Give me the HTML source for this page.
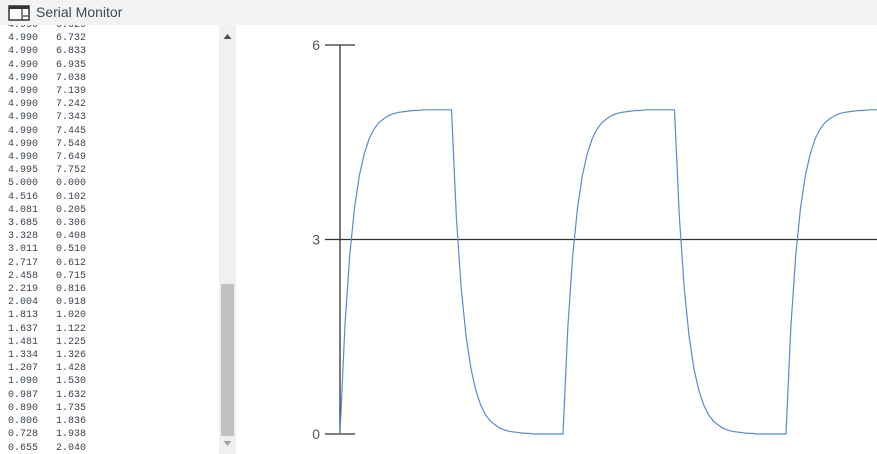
<!DOCTYPE html>
<html><head><meta charset="utf-8">
<style>
body{margin:0;width:877px;height:454px;overflow:hidden;background:#fff;font-family:"Liberation Sans",sans-serif;position:relative}
#hdr{position:absolute;left:0;top:0;width:877px;height:25px;background:#f3f3f4}
#title{position:absolute;left:36px;top:4px;font-size:14px;color:#3c4a5a}
#log{position:absolute;left:8px;font-family:"Liberation Mono",monospace;font-size:10px;line-height:13.2px;color:#3a4350;white-space:pre}
#logwrap{position:absolute;left:0;top:25px;width:219px;height:429px;overflow:hidden}
#track{position:absolute;left:219px;top:25px;width:17px;height:429px;background:#f0f0f0}
#thumb{position:absolute;left:221px;top:284px;width:13px;height:152px;background:#c1c1c1}
</style></head><body>
<div id="hdr">
<svg style="position:absolute;left:8px;top:5px" width="22" height="16">
<rect x="1" y="1" width="20" height="14" fill="#fff" stroke="#333" stroke-width="1.5"/>
<rect x="1" y="1" width="20" height="3" fill="#333"/>
<line x1="14" y1="4" x2="14" y2="15" stroke="#333" stroke-width="1.2"/>
<line x1="15" y1="11" x2="20" y2="11" stroke="#333" stroke-width="1.2"/>
</svg>
<div id="title">Serial Monitor</div>
</div>
<div id="logwrap"><div id="log" style="top:-6px">4.990   6.629
4.990   6.732
4.990   6.833
4.990   6.935
4.990   7.038
4.990   7.139
4.990   7.242
4.990   7.343
4.990   7.445
4.990   7.548
4.990   7.649
4.995   7.752
5.000   0.000
4.516   0.102
4.081   0.205
3.685   0.306
3.328   0.408
3.011   0.510
2.717   0.612
2.458   0.715
2.219   0.816
2.004   0.918
1.813   1.020
1.637   1.122
1.481   1.225
1.334   1.326
1.207   1.428
1.090   1.530
0.987   1.632
0.890   1.735
0.806   1.836
0.728   1.938
0.655   2.040</div></div>
<div id="track"></div>
<div id="thumb"></div>
<svg style="position:absolute;left:219px;top:25px" width="17" height="429">
<polygon points="4.5,14 12.5,14 8.5,9" fill="#505050"/>
<polygon points="4.5,416 12.5,416 8.5,421" fill="#a0a0a0"/>
</svg>
<svg id="chart" style="position:absolute;left:0;top:0" width="877" height="454"></svg>
<script>
const yTicks=[0,3,6];
const yTickLabels=["0","3","6"];
const series=[0,1.65,2.75,3.49,3.99,4.32,4.55,4.70,4.80,4.86,4.91,4.94,4.96,4.97,4.98,4.99,4.99,5,5,5,5,5,5,
5,3.35,2.25,1.51,1.01,0.68,0.45,0.30,0.20,0.14,0.09,0.06,0.04,0.03,0.02,0.01,0.01,0,0,0,0,0,0,
0,1.65,2.75,3.49,3.99,4.32,4.55,4.70,4.80,4.86,4.91,4.94,4.96,4.97,4.98,4.99,4.99,5,5,5,5,5,5,
5,3.35,2.25,1.51,1.01,0.68,0.45,0.30,0.20,0.14,0.09,0.06,0.04,0.03,0.02,0.01,0.01,0,0,0,0,0,0,
0,1.65,2.75,3.49,3.99,4.32,4.55,4.70,4.80,4.86,4.91,4.94,4.96,4.97,4.98,4.99,4.99,5,5,5];
const NS="http://www.w3.org/2000/svg";
const svg=document.getElementById('chart');
const y=v=>434-v*(389/6);
const x=i=>340+i*(111.5/23);
function mk(t,a){const e=document.createElementNS(NS,t);for(const k in a)e.setAttribute(k,a[k]);svg.appendChild(e);return e;}
const ax=mk('line',{x1:340,x2:340,y1:y(6),y2:y(0),stroke:'#333','stroke-width':1.3});


yTicks.forEach((t,k)=>{
 const l=mk('line',{x1:325,x2:t===3?877:355,y1:y(t),y2:y(t),stroke:'#333','stroke-width':1.2});
 
 
 const tx=mk('text',{x:320,y:y(t)+5,'text-anchor':'end','font-size':14,fill:'#555','font-family':'Liberation Sans, sans-serif'});
 tx.textContent=yTickLabels[k];
 
 
});
const pts=series.map((v,i)=>x(i).toFixed(2)+','+y(v).toFixed(2)).join(' ');
const pl=mk('polyline',{points:pts,fill:'none',stroke:'#5b8bd0','stroke-width':1.2});


</script>
</body></html>
